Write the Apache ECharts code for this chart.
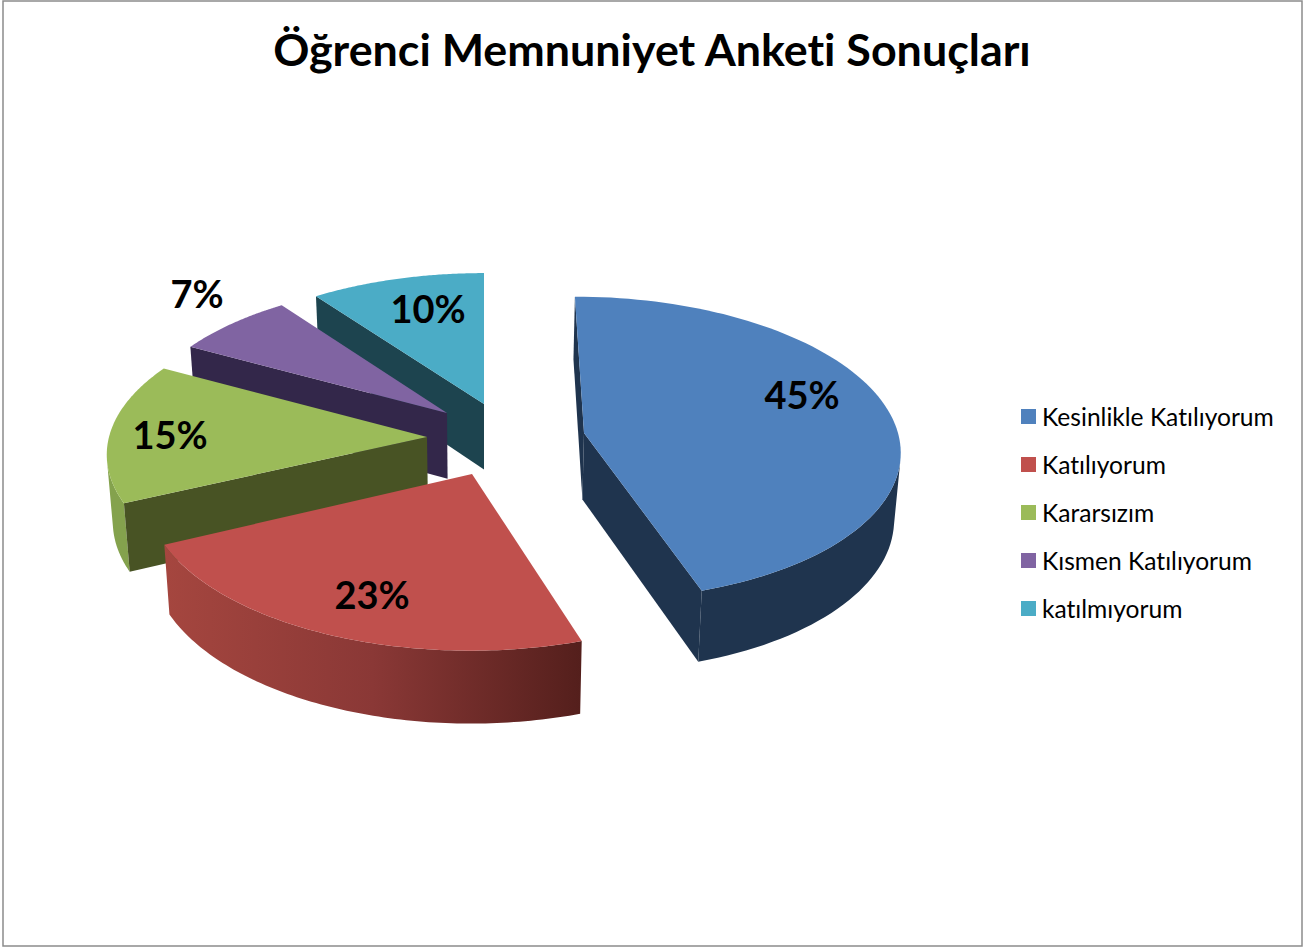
<!DOCTYPE html>
<html>
<head>
<meta charset="utf-8">
<title>Öğrenci Memnuniyet Anketi Sonuçları</title>
<style>
  html, body { margin: 0; padding: 0; background: #fff; }
  #chart { width: 1309px; height: 947px; font-variant-ligatures: none; }
</style>
<script src="https://cdn.jsdelivr.net/npm/echarts@6/dist/echarts.min.js"></script>
</head>
<body>
<div id="chart"></div>
<script>
const titleText = "Öğrenci Memnuniyet Anketi Sonuçları"
const categories = ["Kesinlikle Katılıyorum", "Katılıyorum", "Kararsızım", "Kısmen Katılıyorum", "katılmıyorum"]
const percents = [45, 23, 15, 7, 10]
const topColors = ["#4F81BD", "#C0504D", "#9BBB59", "#8064A2", "#4BACC6"]
const wallColors = ["#1F344E", "#55201D", "#485324", "#33274A", "#1D444F"]
const rimColors = ["#1F344E", ["#A5463F", "#8A3836", "#541F1C"], "#84A24D", "#33274A", "#1D444F"]

// 3d pie layout, the slice tips and label spots come from the exploded drawing
const slicePos = [[584, 433], [472, 474], [427, 437], [447, 413], [484, 404]]
const radiusX = [314, 325, 318, 309, 309]
const radiusY = [150, 159, 149, 144, 144]
const labelPos = [[802, 394], [372, 594], [170, 434], [197, 293], [428, 308]]
const drawOrder = [4, 3, 2, 0, 1]
const vanishX = 484
const perspective = 0.1
const taper = 0.016

const total = percents.reduce((a, b) => a + b, 0)
const angles = []
percents.reduce((acc, v) => {
  angles.push([acc / total * 2 * Math.PI, (acc + v) / total * 2 * Math.PI])
  return acc + v
}, 0)

function rimPoint(i, a) {
  const [ax, ay] = slicePos[i]
  const u = Math.sin(a)
  const v = Math.cos(a)
  const w = 1 + perspective * v
  return [vanishX + (ax - vanishX + radiusX[i] * u) / w, ay - radiusY[i] * v / w]
}

// lower edge of the pie, nearer parts look a bit thicker
function drop(p) {
  return [p[0] + (vanishX - p[0]) * taper, p[1] + 66 + (p[1] - 420) * 0.03]
}

function area(pts) {
  let s = 0
  pts.forEach((p, n) => {
    const q = pts[(n + 1) % pts.length]
    s += p[0] * q[1] - q[0] * p[1]
  })
  return s
}

function poly(points, fill) {
  return {type: "polygon", shape: {points}, style: {fill, stroke: "none"}}
}

function rimFill(i) {
  const c = rimColors[i]
  if (typeof c === "string") return c
  return new echarts.graphic.LinearGradient(0, 0, 1, 0, [
    {offset: 0, color: c[0]},
    {offset: 0.5, color: c[1]},
    {offset: 1, color: c[2]}
  ])
}

// only the part of the rim that faces the viewer
function frontArc(arc) {
  return arc.filter((p, n) => {
    const q = arc[n + 1] || p
    const r = n + 1 < arc.length ? p : arc[n - 1]
    const a = n + 1 < arc.length ? [p, q, drop(q), drop(p)] : [r, p, drop(p), drop(r)]
    return area(a) < 0
  })
}

function renderSlice(i) {
  const [start, end] = angles[i]
  const steps = 90
  const arc = []
  for (let n = 0; n <= steps; n++) arc.push(rimPoint(i, start + (end - start) * n / steps))
  const tip = slicePos[i]
  const tipLow = drop(tip)
  const children = []

  const front = frontArc(arc)
  if (front.length > 1) children.push(poly(front.concat(front.map(drop).reverse()), rimFill(i)))

  const startWall = [tip, arc[0], drop(arc[0]), tipLow]
  const endWall = [tip, arc[steps], drop(arc[steps]), tipLow]
  if (area(startWall) < 0) children.push(poly(startWall, wallColors[i]))
  if (area(endWall) > 0) children.push(poly(endWall, wallColors[i]))

  children.push(poly([tip].concat(arc), topColors[i]))
  children.push({
    type: "text",
    style: {
      x: labelPos[i][0],
      y: labelPos[i][1],
      text: percents[i] + "%",
      fill: "#000",
      font: "bold 38px Lato",
      align: "center",
      verticalAlign: "middle"
    }
  })
  return {type: "group", children}
}

const myChart = echarts.init(document.getElementById("chart"), null, {renderer: "svg"})
myChart.setOption({
  animation: false,
  backgroundColor: "#fff",
  title: {
    text: titleText,
    left: 647,
    top: 21,
    textAlign: "center",
    textStyle: {fontFamily: "Lato", fontWeight: "bold", fontSize: 44.8, color: "#000"}
  },
  legend: {
    orient: "vertical",
    left: 1016,
    top: 399,
    icon: "rect",
    itemWidth: 15,
    itemHeight: 15,
    itemGap: 23,
    data: categories,
    textStyle: {fontFamily: "Lato", fontSize: 24.6, color: "#000", padding: [0, 0, 0, 1]}
  },
  graphic: [{
    type: "rect",
    shape: {x: 3, y: 1, width: 1299, height: 945},
    style: {fill: "none", stroke: "#8c8c8c", lineWidth: 1.5},
    silent: true
  }],
  series: drawOrder.map(i => ({
    type: "custom",
    name: categories[i],
    coordinateSystem: "none",
    itemStyle: {color: topColors[i]},
    data: [percents[i]],
    renderItem: () => renderSlice(i)
  }))
})
</script>
</body>
</html>
